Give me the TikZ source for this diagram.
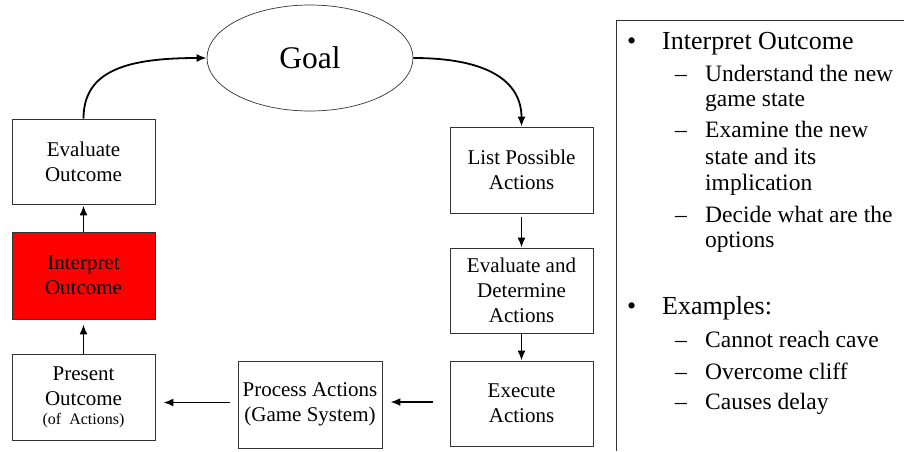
\documentclass[tikz,border=0pt]{standalone}
\usepackage{fontspec}
\setmainfont{Liberation Serif}
\usetikzlibrary{arrows.meta,shapes.geometric}

\begin{document}
\begin{tikzpicture}[x=1pt,y=-1pt,
  stepbox/.style={draw=black!80, line width=0.8pt, minimum width=143pt,
    align=center, inner sep=0pt, font=\fontsize{21}{25}\selectfont},
  flow/.style={line width=1.8pt, -{Latex[length=10pt,width=8pt]}},
  head/.style={anchor=base west, inner sep=0pt, font=\fontsize{26}{30}\selectfont},
  sub/.style={anchor=base west, inner sep=0pt, font=\fontsize{23.5}{27}\selectfont},
]
\useasboundingbox (0,0) rectangle (904,451);

% goal ellipse
\node[ellipse, draw=black!80, line width=0.7pt, minimum width=206pt, minimum height=106pt,
  inner sep=0pt, font=\fontsize{31.5}{36}\selectfont] (goal) at (310,58) {Goal};

% left column
\node[stepbox, minimum height=85pt] (evalout) at (83.5,161.5) {Evaluate\\Outcome};
\node[stepbox, minimum height=87pt, fill=red] (interp) at (83.5,275.5) {Interpret\\Outcome};
\node[stepbox, minimum height=86pt] (present) at (83.5,397)
  {Present\\Outcome\\[-6pt]{\fontsize{16}{18}\selectfont(of\ \ Actions)}};

% bottom middle
\node[stepbox, minimum width=144pt, minimum height=87pt] (process) at (310,404.5)
  {Process Actions\\(Game System)};

% right column
\node[stepbox, minimum height=86pt] (list) at (521.5,170) {List Possible\\Actions};
\node[stepbox, minimum height=85pt] (evaldet) at (521.5,290.5) {Evaluate and\\Determine\\Actions};
\node[stepbox, minimum height=85pt] (execute) at (521.5,403.5) {Execute\\Actions};

% connectors
\draw[flow] (evalout.north) .. controls +(0,-48) and +(-80,0) .. (goal.west);
\draw[flow] (goal.east) .. controls +(75,0) and +(0,-45) .. (list.north);
\draw[flow, shorten <=4pt] (list.south) -- (evaldet.north);
\draw[flow] (evaldet.south) -- (execute.north);
\draw[flow, shorten <=17pt, shorten >=8pt] ([yshift=1.5pt]execute.west) -- ([yshift=1.5pt]execute.west -| process.east);
\draw[flow, shorten <=8pt, shorten >=8pt] ([yshift=2pt]process.west) -- ([yshift=2pt]process.west -| present.east);
\draw[flow, shorten >=5pt] (present.north) -- (interp.south);
\draw[flow, shorten >=1pt] (interp.north) -- (evalout.south);

% side panel
\draw[black!80, line width=0.8pt] (616,451) coordinate (pb) -- (616,20) coordinate (pc) -- (904,20) coordinate (pr);

\node[head] (b1) at (627,49) {\textbullet};
\node[head] (h1) at (662,49) {Interpret Outcome};
\node[sub] (d1) at (675,81) {–};
\node[sub] (s1) at (705,81) {Understand the new};
\node[sub] (s1b) at (705,106) {game state};
\node[sub] (d2) at (675,137) {–};
\node[sub] (s2) at (705,137) {Examine the new};
\node[sub] (s2b) at (705,164) {state and its};
\node[sub] (s2c) at (705,190) {implication};
\node[sub] (d3) at (675,222) {–};
\node[sub] (s3) at (705,222) {Decide what are the};
\node[sub] (s3b) at (705,247) {options};

\node[head] (b2) at (627,314) {\textbullet};
\node[head] (h2) at (662,314) {Examples:};
\node[sub] (d4) at (675,347) {–};
\node[sub] (s4) at (705,347) {Cannot reach cave};
\node[sub] (d5) at (675,379) {–};
\node[sub] (s5) at (705,379) {Overcome cliff};
\node[sub] (d6) at (675,409) {–};
\node[sub] (s6) at (705,409) {Causes delay};
\end{tikzpicture}
\end{document}
